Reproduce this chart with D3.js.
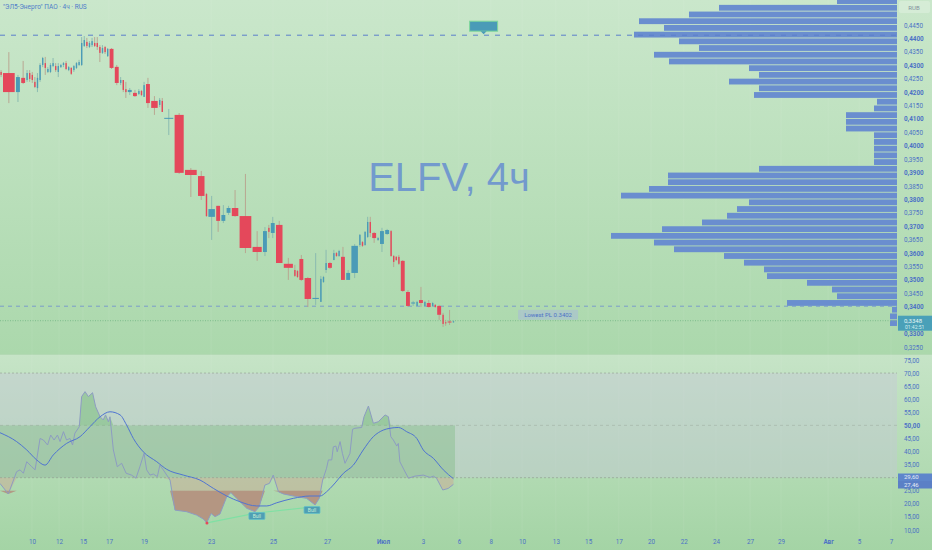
<!DOCTYPE html>
<html>
<head>
<meta charset="utf-8">
<script src="https://cdn.jsdelivr.net/npm/d3@7"></script>
<style>
    body { margin: 0; background: #b8dcb9; overflow: hidden; }
    #chart { width: 932px; height: 550px; }
    text { font-family: Roboto, "Liberation Sans", sans-serif; }
</style>
</head>
<body>
<div id="chart"></div>
<script>

// time axis is counted in 4h bar slots
// candles: [slot, open, high, low, close]
const candles = [
    [0, .4275, .4282, .4256, .4264], [1, .4271, .4349, .4159, .4200], [6, .4200, .4264, .4163, .4256],
    [8, .4253, .4316, .4230, .4234], [10, .4245, .4282, .4238, .4271], [11, .4271, .4282, .4238, .4249],
    [12, .4264, .4275, .4234, .4245], [13, .4238, .4256, .4215, .4219], [14, .4215, .4271, .4200, .4253],
    [15, .4245, .4308, .4238, .4301], [16, .4301, .4331, .4293, .4327], [17, .4308, .4331, .4264, .4290],
    [18, .4275, .4293, .4271, .4286], [19, .4275, .4308, .4271, .4301], [20, .4297, .4327, .4293, .4308],
    [21, .4297, .4308, .4275, .4282], [22, .4275, .4308, .4256, .4297], [23, .4293, .4305, .4290, .4301],
    [24, .4301, .4312, .4293, .4308], [25, .4308, .4316, .4282, .4286], [26, .4282, .4297, .4278, .4293],
    [27, .4290, .4293, .4264, .4268], [28, .4282, .4301, .4275, .4297], [29, .4290, .4312, .4286, .4308],
    [30, .4301, .4320, .4297, .4312], [31, .4301, .4405, .4297, .4383], [32, .4372, .4409, .4368, .4394],
    [33, .4387, .4402, .4364, .4372], [34, .4368, .4390, .4364, .4383], [35, .4375, .4402, .4368, .4390],
    [36, .4383, .4405, .4368, .4372], [37, .4383, .4405, .4357, .4368], [38, .4368, .4375, .4312, .4346],
    [39, .4346, .4375, .4342, .4364], [40, .4368, .4372, .4342, .4349], [41, .4334, .4364, .4331, .4361],
    [42, .4361, .4364, .4286, .4290], [44, .4294, .4301, .4226, .4234], [46, .4234, .4256, .4226, .4245],
    [47, .4245, .4245, .4200, .4208], [48, .4211, .4238, .4178, .4200], [49, .4200, .4215, .4189, .4208],
    [51, .4197, .4208, .4182, .4185], [53, .4193, .4211, .4189, .4204], [54, .4204, .4208, .4185, .4189],
    [55, .4182, .4238, .4182, .4226], [56, .4230, .4253, .4141, .4159], [58, .4167, .4185, .4115, .4141],
    [61, .4152, .4178, .4144, .4171], [62, .4167, .4178, .4126, .4126], [63, .4102, .4137, .4040, .4104],
    [67, .4115, .4122, .3895, .3899], [71, .3910, .3917, .3809, .3891], [76, .3887, .3906, .3798, .3813],
    [79, .3820, .3824, .3735, .3738], [80, .3735, .3813, .3649, .3764], [83, .3776, .3776, .3679, .3720],
    [85, .3720, .3779, .3712, .3742], [87, .3750, .3776, .3742, .3768], [89, .3768, .3835, .3735, .3738],
    [92, .3738, .3895, .3600, .3619], [97, .3623, .3682, .3571, .3604], [101, .3604, .3697, .3589, .3682],
    [103, .3694, .3705, .3656, .3679], [104, .3675, .3735, .3656, .3712], [106, .3705, .3720, .3563, .3563],
    [109, .3560, .3582, .3500, .3545], [113, .3537, .3556, .3511, .3515], [114, .3533, .3537, .3507, .3511],
    [115, .3578, .3593, .3496, .3500], [117, .3507, .3511, .3399, .3429], [120, .3429, .3600, .3407, .3433],
    [123, .3418, .3515, .3418, .3504], [124, .3492, .3515, .3489, .3511], [125, .3537, .3612, .3526, .3563],
    [126, .3563, .3567, .3541, .3545], [128, .3574, .3612, .3574, .3600], [129, .3600, .3604, .3586, .3589],
    [130, .3589, .3612, .3586, .3608], [131, .3586, .3623, .3500, .3500], [133, .3500, .3537, .3500, .3526],
    [135, .3526, .3634, .3507, .3627], [138, .3630, .3671, .3623, .3668], [139, .3641, .3645, .3623, .3627],
    [140, .3630, .3682, .3627, .3679], [141, .3660, .3735, .3656, .3716], [142, .3716, .3735, .3660, .3675],
    [143, .3675, .3679, .3638, .3656], [145, .3649, .3660, .3645, .3656], [146, .3634, .3694, .3604, .3682],
    [148, .3671, .3690, .3668, .3686], [150, .3682, .3686, .3586, .3589], [151, .3589, .3593, .3548, .3567],
    [152, .3586, .3589, .3571, .3574], [153, .3586, .3593, .3556, .3560], [154, .3571, .3574, .3455, .3459],
    [156, .3455, .3462, .3399, .3403], [158, .3412, .3422, .3403, .3416], [160, .3403, .3422, .3403, .3418],
    [161, .3425, .3474, .3399, .3414], [163, .3403, .3422, .3400, .3418], [164, .3414, .3425, .3397, .3399],
    [166, .3403, .3418, .3400, .3414], [167, .3407, .3410, .3396, .3399], [168, .3403, .3407, .3351, .3370],
    [170, .3370, .3377, .3325, .3336], [171, .3342, .3351, .3329, .3338], [172, .3345, .3388, .3332, .3342],
    [174, .3342, .3349, .3340, .3346]
];

// volume profile, bin top price (0.0025 bins) and volume
const profilePrice = [.4550, .4525, .4500, .4475, .4450, .4425, .4400, .4375, .4350, .4325, .4300, .4275,
    .4250, .4225, .4200, .4175, .4150, .4125, .4100, .4075, .4050, .4025, .4000, .3975, .3950, .3925,
    .3900, .3875, .3850, .3825, .3800, .3775, .3750, .3725, .3700, .3675, .3650, .3625, .3600, .3575,
    .3550, .3525, .3500, .3475, .3450, .3425, .3400, .3375, .3350];
const profileVolume = [60, 178, 208, 258, 233, 263, 218, 198, 243, 228, 148, 138,
    168, 138, 143, 20, 23, 51, 51, 51, 23, 23, 23, 23, 23, 138,
    229, 229, 248, 276, 148, 160, 170, 195, 235, 286, 243, 223, 173, 153,
    133, 130, 90, 65, 60, 110, 5, 7, 7];

// RSI line and its moving average
const rsiSlot = [0, 3.2, 6.4, 7.7, 9.0, 10.3, 12.2, 13.5, 14.1, 15.4, 16.7, 18.3, 19.5, 20.8, 22.1, 23.1, 24.4,
    25.6, 26.9, 27.9, 28.8, 30.5, 31.4, 32.7, 34.0, 35.6, 36.8, 38.5, 39.7, 40.6, 41.7, 42.3, 43.6, 45.1,
    46.8, 48.5, 50.6, 52.3, 53.8, 55.4, 56.4, 57.7, 59.0, 60.5, 61.5, 62.8, 65.4, 67.3, 71.8, 75.6, 78.2,
    79.5, 81.2, 82.7, 84.6, 87.2, 88.8, 91.0, 94.9, 98.1, 99.7, 101.9, 103.6, 105.1, 107.1, 109.0, 112.8,
    117.9, 121.2, 122.8, 124.1, 125.6, 126.3, 127.6, 128.2, 129.2, 129.7, 130.8, 131.7, 132.7, 134.6,
    135.6, 136.5, 139.1, 140.0, 141.7, 143.6, 145.5, 148.1, 149.4, 150.3, 151.3, 152.6, 153.2, 153.8,
    155.4, 157.1, 159.6, 162.8, 165.4, 166.7, 167.9, 170.3, 172.4, 174.4];
const rsiValue = [27.8, 23.8, 32.3, 33, 31.7, 36.1, 34.2, 33, 36.8, 45, 44.4, 42.5, 46.3, 44.4, 46.3, 43.8, 47.6,
    44.4, 45, 42.5, 47, 49.5, 61, 62.9, 61, 62.5, 57.1, 53.3, 52.1, 54, 51.4, 53.3, 40.6, 34.2,
    35.5, 31.7, 31, 29.8, 34.2, 39.3, 33, 31, 31.4, 30.4, 34.8, 33, 29.1, 17.6, 17, 15.7, 14.2,
    12.8, 16.3, 15.1, 16.1, 22.7, 24.3, 22.1, 18.3, 17, 18.9, 27.2, 27.8, 31, 24.6, 23.8, 23,
    22.1, 19.6, 22.1, 29.1, 33.6, 36.8, 36.8, 41.8, 42.1, 39.9, 43.8, 39.3, 35.5, 39.3,
    48.5, 48.9, 49.2, 53.3, 57.4, 50.8, 51.4, 54, 53.3, 45.7, 44.4, 42.1, 43.1, 36.1,
    33, 29.8, 30.6, 31, 30.1, 30.6, 29.8, 25.3, 25.9, 27.46];
const maSlot = [0, 6.4, 10.3, 14.1, 17.3, 20.5, 25.6, 30.8, 34.6, 38.5, 42.3, 46.2, 48.7, 51.3, 55.1, 60.3, 64.1,
    70.5, 76.9, 82.1, 87.2, 92.3, 98.7, 102.6, 106.4, 112.8, 119.2, 123.1, 125.6, 128.2, 132.1, 135.9,
    139.7, 143.6, 147.4, 150, 153.2, 156.4, 160.3, 162.8, 166.7, 170.5, 174.4];
const maValue = [47.2, 43.8, 40.6, 36.8, 34.8, 38.7, 43.1, 45.7, 49.5, 53.3, 55.2, 54, 50.1, 45, 39.9, 36.1, 33.2,
    31, 29.1, 25.9, 23, 20.8, 19.2, 19.2, 20.4, 22.1, 23, 23, 24.6, 27.2, 31.7, 34.8,
    40.6, 45.7, 48.2, 48.9, 49.2, 47.6, 45, 40.6, 37.4, 33, 29.6];

// bullish divergence pivots on RSI
const divSlot = [79.6, 98.8, 120.0];
const divValue = [12.7, 16.5, 18.8];

// date labels on the time axis
const dateSlot = [12.3, 22.7, 31.9, 41.9, 55.4, 81.2, 105, 125.8, 147.3, 162.7, 176.5, 188.8, 200.8,
    213.8, 226.2, 238, 250.4, 263, 275.4, 288.5, 300.4, 318.5, 330.4, 342.7];
const dateLabel = ["10", "12", "15", "17", "19", "23", "25", "27", "Июл", "3", "6", "8", "10",
    "13", "15", "17", "20", "22", "24", "27", "29", "Авг", "5", "7"];
const monthLabels = ["Июл", "Авг"];

// axis ticks (the ones under the value boxes are left out, as on the chart)
const priceTicks = d3.range(0.325, 0.4451, 0.005).filter(p => Math.abs(p - 0.335) > 0.001);
const rsiTicks = [10, 15, 20, 25, 35, 40, 45, 50, 55, 60, 65, 70, 75];

const highestPrice = 0.4412;
const lowestPivot = 0.3402;
const lastPrice = 0.3348;
const lastRsi = 27.46;
const lastRsiMa = 29.60;


class ChartVis {

    constructor(parentElement) {
        this.parentElement = parentElement;
        this.initVis();
    }

    initVis() {
        let vis = this;

        vis.width = 932;
        vis.height = 550;
        vis.plotRight = 897;

        vis.svg = d3.select("#" + vis.parentElement).append("svg")
            .attr("width", vis.width)
            .attr("height", vis.height);

        let defs = vis.svg.append("defs");
        let bg = defs.append("linearGradient").attr("id", "bg").attr("x1", 0).attr("x2", 0).attr("y1", 0).attr("y2", 1);
        bg.append("stop").attr("offset", "0%").attr("stop-color", "#cae7cb");
        bg.append("stop").attr("offset", "100%").attr("stop-color", "#abd8ac");
        let bg2 = defs.append("linearGradient").attr("id", "bg2").attr("x1", 0).attr("x2", 0).attr("y1", 0).attr("y2", 1);
        bg2.append("stop").attr("offset", "0%").attr("stop-color", "#c6e4c7");
        bg2.append("stop").attr("offset", "100%").attr("stop-color", "#a4d4a5");

        // scales
        vis.x = d3.scaleLinear().domain([0, 345]).range([0, vis.plotRight]);
        vis.y = d3.scaleLinear().domain([0.3250, 0.4450]).range([347, 25]);
        vis.yRsi = d3.scaleLinear().domain([10, 75]).range([530, 360]);
        vis.xVol = d3.scaleLinear().domain([0, 300]).range([vis.plotRight, vis.plotRight - 300]);

        // panes
        vis.svg.append("rect").attr("width", vis.width).attr("height", 354).attr("fill", "url(#bg)");
        vis.svg.append("rect").attr("y", 354).attr("width", vis.width).attr("height", 196).attr("fill", "url(#bg2)");
        vis.svg.append("line").attr("x1", 0).attr("x2", vis.width).attr("y1", 354.5).attr("y2", 354.5)
            .attr("stroke", "#b3d9b4").attr("stroke-width", 1);

        vis.wrangleData();
    }

    wrangleData() {
        let vis = this;

        vis.bars = candles.map((c, i) => ({
            slot: c[0],
            next: i < candles.length - 1 ? candles[i + 1][0] : c[0] + 1,
            open: c[1], high: c[2], low: c[3], close: c[4]
        }));

        vis.profile = profilePrice.map((p, i) => ({top: p, vol: profileVolume[i]}));
        vis.rsi = rsiSlot.map((s, i) => ({slot: s, v: rsiValue[i]}));
        vis.rsiMa = maSlot.map((s, i) => ({slot: s, v: maValue[i]}));
        vis.div = divSlot.map((s, i) => ({slot: s, v: divValue[i]}));

        vis.updateVis();
    }

    updateVis() {
        let vis = this;
        let blue = "#4d72c6";

        // faint vertical grid
        vis.svg.append("g").selectAll("line").data(dateSlot).enter().append("line")
            .attr("x1", d => vis.x(d)).attr("x2", d => vis.x(d))
            .attr("y1", 0).attr("y2", 536)
            .attr("stroke", "#ffffff").attr("stroke-opacity", 0.07);

        // volume profile
        vis.svg.append("g").selectAll("rect").data(vis.profile).enter().append("rect")
            .attr("x", d => vis.xVol(d.vol))
            .attr("y", d => vis.y(d.top))
            .attr("width", d => vis.plotRight - vis.xVol(d.vol))
            .attr("height", d => vis.y(d.top - 0.0025) - vis.y(d.top) - 0.9)
            .attr("fill", "#6a8ecf");

        // reference lines
        vis.svg.append("line")
            .attr("x1", 0).attr("x2", vis.plotRight)
            .attr("y1", vis.y(highestPrice)).attr("y2", vis.y(highestPrice))
            .attr("stroke", "#5a7ecb").attr("stroke-dasharray", "5,6");
        vis.svg.append("line")
            .attr("x1", 0).attr("x2", vis.plotRight)
            .attr("y1", vis.y(lowestPivot)).attr("y2", vis.y(lowestPivot))
            .attr("stroke", "#6e8fd0").attr("stroke-opacity", 0.8).attr("stroke-dasharray", "4,4");
        vis.svg.append("line")
            .attr("x1", 0).attr("x2", vis.plotRight)
            .attr("y1", vis.y(lastPrice)).attr("y2", vis.y(lastPrice))
            .attr("stroke", "#7dbd8c").attr("stroke-dasharray", "1,1.5");

        // watermark
        vis.svg.append("text")
            .attr("x", 449).attr("y", 191)
            .attr("text-anchor", "middle")
            .style("font-family", "'Liberation Sans', Arial, sans-serif")
            .style("font-size", "40px")
            .attr("fill", "#5b83d3").attr("fill-opacity", 0.75)
            .text("ELFV, 4ч");

        // title
        vis.svg.append("text")
            .attr("x", 3).attr("y", 9)
            .style("font-size", "6.5px")
            .attr("fill", "#4f7cc9")
            .text("\"ЭЛ5-Энерго\" ПАО · 4ч · RUS");

        // candles
        let up = "#4a9bb7", down = "#e4485b";
        let candle = vis.svg.append("g").selectAll("g").data(vis.bars).enter().append("g");
        candle.append("line")
            .attr("x1", d => (vis.x(d.slot) + vis.x(d.next)) / 2 - 0.25)
            .attr("x2", d => (vis.x(d.slot) + vis.x(d.next)) / 2 - 0.25)
            .attr("y1", d => vis.y(d.high))
            .attr("y2", d => vis.y(d.low))
            .attr("stroke", d => d.close >= d.open ? "#86b8b0" : "#b9a08d")
            .attr("stroke-width", 0.9);
        candle.append("rect")
            .attr("x", d => vis.x(d.slot) + 0.4)
            .attr("width", d => Math.max(1.4, vis.x(d.next) - vis.x(d.slot) - 1.3))
            .attr("y", d => vis.y(Math.max(d.open, d.close)))
            .attr("height", d => Math.max(1, Math.abs(vis.y(d.open) - vis.y(d.close))))
            .attr("fill", d => d.close >= d.open ? up : down);

        // marker above highest line
        let mx = vis.x(186), my = vis.y(highestPrice);
        vis.svg.append("rect")
            .attr("x", mx - 14).attr("y", my - 14).attr("width", 28).attr("height", 10)
            .attr("fill", up).attr("stroke", "#7fd89b").attr("stroke-width", 1);
        vis.svg.append("path")
            .attr("d", `M${mx - 3},${my - 4} L${mx + 3},${my - 4} L${mx},${my - 1} Z`)
            .attr("fill", up);

        // lowest pivot label
        let lx = vis.x(210.8), ly = vis.y(lowestPivot);
        vis.svg.append("rect")
            .attr("x", lx - 30).attr("y", ly + 3.5).attr("width", 60).attr("height", 10).attr("rx", 1)
            .attr("fill", "#a9bcd9").attr("fill-opacity", 0.55);
        vis.svg.append("text")
            .attr("x", lx).attr("y", ly + 10.5).attr("text-anchor", "middle")
            .style("font-size", "6px").attr("fill", blue)
            .text("Lowest PL " + lowestPivot.toFixed(4));

        // ---- RSI pane ----
        let rsiEnd = vis.x(175);
        vis.svg.append("rect")
            .attr("x", 0).attr("width", vis.plotRight)
            .attr("y", vis.yRsi(70)).attr("height", vis.yRsi(30) - vis.yRsi(70))
            .attr("fill", "#c6c6da").attr("fill-opacity", 0.4);
        vis.svg.append("rect")
            .attr("x", 0).attr("width", rsiEnd)
            .attr("y", vis.yRsi(50)).attr("height", vis.yRsi(30) - vis.yRsi(50))
            .attr("fill", "#6bb46c").attr("fill-opacity", 0.3);

        [70, 30].forEach(lv => {
            vis.svg.append("line")
                .attr("x1", 0).attr("x2", vis.plotRight)
                .attr("y1", vis.yRsi(lv)).attr("y2", vis.yRsi(lv))
                .attr("stroke", "#8f9a90").attr("stroke-opacity", 0.6).attr("stroke-dasharray", "2,2");
        });
        vis.svg.append("line")
            .attr("x1", 0).attr("x2", vis.plotRight)
            .attr("y1", vis.yRsi(50)).attr("y2", vis.yRsi(50))
            .attr("stroke", "#8f9a90").attr("stroke-opacity", 0.35).attr("stroke-dasharray", "3,3");

        // fills
        let area = (level, fn) => d3.area()
            .x(d => vis.x(d.slot))
            .y0(vis.yRsi(level))
            .y1(d => vis.yRsi(fn(d.v, level)));
        vis.svg.append("path").datum(vis.rsi)
            .attr("d", area(50, Math.max))
            .attr("fill", "#6dbb6e").attr("fill-opacity", 0.45);
        vis.svg.append("path").datum(vis.rsi)
            .attr("d", area(30, Math.min))
            .attr("fill", "#d6968a").attr("fill-opacity", 0.35);
        vis.svg.append("path").datum(vis.rsi)
            .attr("d", area(25, Math.min))
            .attr("fill", "#b38e7c").attr("fill-opacity", 0.85);

        // lines
        vis.svg.append("path").datum(vis.rsi)
            .attr("d", d3.line().x(d => vis.x(d.slot)).y(d => vis.yRsi(d.v)))
            .attr("fill", "none").attr("stroke", "#8d9cc2").attr("stroke-width", 1);
        vis.svg.append("path").datum(vis.rsiMa)
            .attr("d", d3.line().curve(d3.curveMonotoneX).x(d => vis.x(d.slot)).y(d => vis.yRsi(d.v)))
            .attr("fill", "none").attr("stroke", "#4f74d2").attr("stroke-width", 1);

        // divergence
        vis.svg.append("path").datum(vis.div)
            .attr("d", d3.line().x(d => vis.x(d.slot)).y(d => vis.yRsi(d.v)))
            .attr("fill", "none").attr("stroke", "#7fe0a4").attr("stroke-width", 1.2);
        vis.svg.append("circle")
            .attr("cx", vis.x(vis.div[0].slot)).attr("cy", vis.yRsi(vis.div[0].v)).attr("r", 1.5)
            .attr("fill", "#e5485a");
        let bull = vis.svg.append("g").selectAll("g").data(vis.div.slice(1)).enter().append("g")
            .attr("transform", d => `translate(${vis.x(d.slot)}, ${vis.yRsi(d.v) + 3})`);
        bull.append("rect")
            .attr("x", -8).attr("y", -3.5).attr("width", 16).attr("height", 7).attr("rx", 1)
            .attr("fill", "#4f9fb4").attr("stroke", "#62c0c8").attr("stroke-width", 0.8);
        bull.append("text")
            .attr("y", 2).attr("text-anchor", "middle")
            .style("font-size", "5px").attr("fill", "#c8efd6")
            .text("Bull");

        // ---- axes ----
        let priceFmt = d => d3.format(".4f")(d).replace(".", ",");
        let priceAxis = d3.axisRight(vis.y)
            .tickValues(priceTicks)
            .tickSize(0).tickPadding(0)
            .tickFormat(priceFmt);
        let pa = vis.svg.append("g").attr("transform", "translate(904,0)").call(priceAxis);
        pa.select(".domain").remove();
        pa.selectAll("text")
            .style("font-size", "6.3px").attr("fill", blue)
            .style("font-weight", d => Math.round(d * 10000) % 100 === 0 ? "bold" : "normal");

        let rsiAxis = d3.axisRight(vis.yRsi)
            .tickValues(rsiTicks)
            .tickSize(0).tickPadding(0)
            .tickFormat(d => d3.format(".2f")(d).replace(".", ","));
        let ra = vis.svg.append("g").attr("transform", "translate(904,0)").call(rsiAxis);
        ra.select(".domain").remove();
        ra.selectAll("text")
            .style("font-size", "6.3px").attr("fill", blue)
            .style("font-weight", d => d === 50 ? "bold" : "normal");

        let timeAxis = d3.axisBottom(vis.x)
            .tickValues(dateSlot)
            .tickSize(0).tickPadding(0)
            .tickFormat((d, i) => dateLabel[i]);
        let ta = vis.svg.append("g").attr("transform", "translate(0,540)").call(timeAxis);
        ta.select(".domain").remove();
        ta.selectAll("text")
            .style("font-size", "6.3px").attr("fill", blue)
            .style("font-weight", (d, i) => monthLabels.includes(dateLabel[i]) ? "bold" : "normal");

        // currency box
        vis.svg.append("rect")
            .attr("x", 899).attr("y", 1).attr("width", 31).attr("height", 12).attr("rx", 2)
            .attr("fill", "#ddf0dd").attr("fill-opacity", 0.6);
        vis.svg.append("text")
            .attr("x", 914).attr("y", 9.5).attr("text-anchor", "middle")
            .style("font-size", "6px").attr("fill", "#7f8f9c")
            .text("RUB");

        // last price box
        let py = vis.y(lastPrice);
        vis.svg.append("rect")
            .attr("x", 898).attr("y", py - 5).attr("width", 34).attr("height", 15)
            .attr("fill", "#4aa0b8");
        vis.svg.append("text")
            .attr("x", 904).attr("y", py + 2).style("font-size", "6px").attr("fill", "#e8f6f4")
            .text(priceFmt(lastPrice));
        vis.svg.append("text")
            .attr("x", 905).attr("y", py + 8.5).style("font-size", "5px").attr("fill", "#d5efee")
            .text("01:42:51");

        // RSI value boxes
        [[lastRsiMa, "#5e86cb"], [lastRsi, "#5b80c6"]].forEach((b, i) => {
            let by = 473.5 + i * 7.5;
            vis.svg.append("rect")
                .attr("x", 898).attr("y", by).attr("width", 34).attr("height", 7.5)
                .attr("fill", b[1]);
            vis.svg.append("text")
                .attr("x", 904).attr("y", by + 5.8).style("font-size", "6px").attr("fill", "#e6ecf6")
                .text(d3.format(".2f")(b[0]).replace(".", ","));
        });
    }
}

new ChartVis("chart");

</script>
</body>
</html>
